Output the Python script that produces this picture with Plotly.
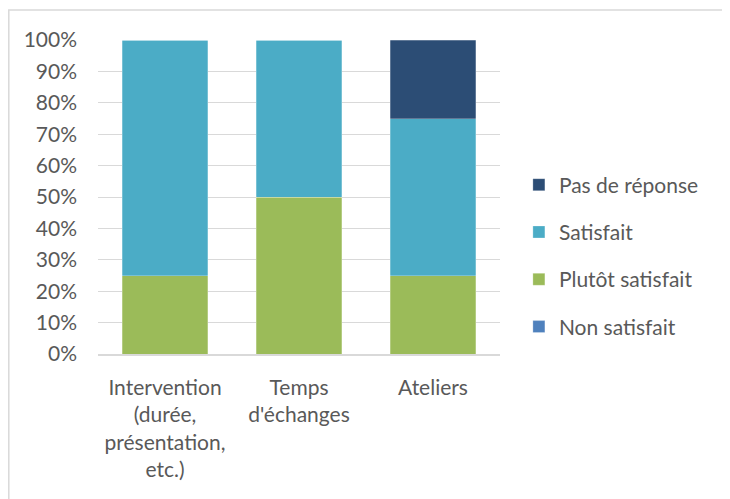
import plotly.graph_objects as go

categories = ["Intervention<br>(durée,<br>présentation,<br>etc.)", "Temps<br>d'échanges", "Ateliers"]
non_satisfait = [0, 0, 0]
plutot_satisfait = [25, 50, 25]
satisfait = [75, 50, 50]
pas_de_reponse = [0, 0, 25]
tick_vals = [0, 10, 20, 30, 40, 50, 60, 70, 80, 90, 100]
tick_text = [f"{v}%" for v in tick_vals]

series = [
    ("Non satisfait", non_satisfait, "#4f81bd", 4),
    ("Plutôt satisfait", plutot_satisfait, "#9bbb59", 3),
    ("Satisfait", satisfait, "#4bacc6", 2),
    ("Pas de réponse", pas_de_reponse, "#2c4d75", 1),
]

fig = go.Figure()
for name, vals, color, rank in series:
    fig.add_trace(go.Bar(
        x=categories, y=vals, name=name, legendgroup=name, legendrank=rank,
        marker=dict(color=color, line=dict(color="rgba(255,255,255,0.5)", width=0.5)),
    ))

font_family = "Lato, Open Sans, sans-serif"
L, T, PW, PH = 90, 32, 402, 314
fig.update_layout(
    width=730, height=499,
    barmode="stack", bargap=0.36,
    paper_bgcolor="white", plot_bgcolor="white",
    margin=dict(l=L, r=730 - L - PW, t=T, b=499 - T - PH),
    font=dict(family=font_family, size=21, color="#595959"),
    showlegend=True,
    legend=dict(
        traceorder="grouped", tracegroupgap=17,
        x=1.047, xanchor="left", y=0.312, yanchor="middle",
        font=dict(size=21, color="#595959"), itemwidth=30,
    ),
    xaxis=dict(showline=True, linecolor="#d9d9d9", linewidth=1.5, ticks="",
               tickfont=dict(size=21), ticklabelstandoff=14),
    yaxis=dict(range=[0, 100], tickvals=tick_vals, ticktext=tick_text,
               showgrid=True, gridcolor="#d9d9d9", gridwidth=1.2,
               zeroline=False, ticks="", ticklabelstandoff=20, tickfont=dict(size=21)),
    shapes=[dict(type="rect", xref="paper", yref="paper",
                 x0=(0.8 - L) / PW, x1=2, y0=-1, y1=(346 - 2) / PH,
                 line=dict(color="#d9d9d9", width=1.5), fillcolor="rgba(0,0,0,0)", layer="below")],
)

fig.write_html("out.html")
